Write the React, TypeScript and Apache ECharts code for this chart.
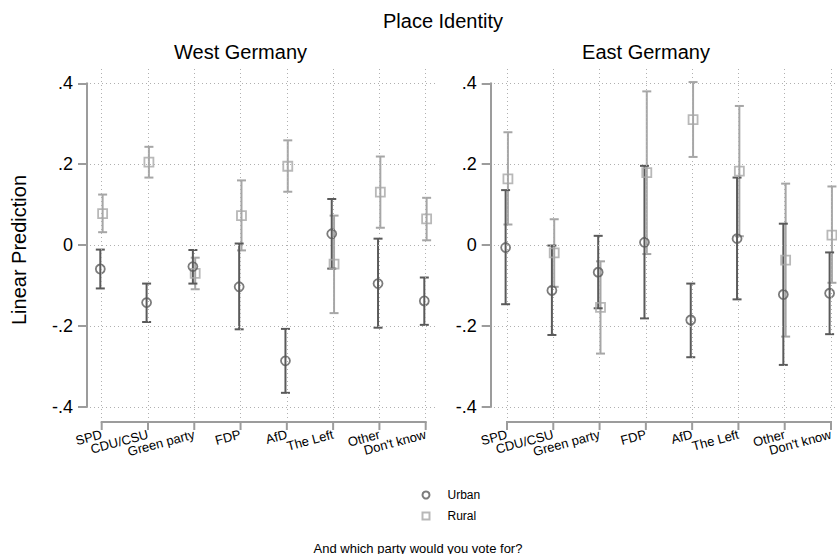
import React, { useEffect, useRef } from 'react';
import * as echarts from 'echarts';

const categories = ['SPD', 'CDU/CSU', 'Green party', 'FDP', 'AfD', 'The Left', 'Other', "Don't know"];
const yTicks = [-0.4, -0.2, 0, 0.2, 0.4];

const westUrban = [-0.059, -0.142, -0.053, -0.103, -0.286, 0.028, -0.095, -0.138];
const westUrbanLo = [-0.107, -0.19, -0.095, -0.208, -0.365, -0.058, -0.204, -0.197];
const westUrbanHi = [-0.011, -0.095, -0.012, 0.004, -0.207, 0.114, 0.016, -0.08];
const westRural = [0.078, 0.205, -0.07, 0.073, 0.195, -0.047, 0.131, 0.065];
const westRuralLo = [0.032, 0.167, -0.109, -0.013, 0.132, -0.168, 0.043, 0.012];
const westRuralHi = [0.125, 0.243, -0.031, 0.16, 0.259, 0.073, 0.219, 0.117];

const eastUrban = [-0.006, -0.112, -0.067, 0.007, -0.185, 0.016, -0.122, -0.119];
const eastUrbanLo = [-0.146, -0.222, -0.156, -0.181, -0.277, -0.134, -0.296, -0.22];
const eastUrbanHi = [0.136, -0.001, 0.023, 0.196, -0.095, 0.167, 0.053, -0.018];
const eastRural = [0.164, -0.019, -0.154, 0.179, 0.31, 0.183, -0.037, 0.025];
const eastRuralLo = [0.051, -0.103, -0.268, -0.022, 0.218, 0.022, -0.226, -0.093];
const eastRuralHi = [0.279, 0.064, -0.04, 0.38, 0.403, 0.344, 0.152, 0.145];

const URBAN = '#5a5a5a';
const RURAL = '#a6a6a6';
const AXIS = '#9c9c9c';
const GRIDC = '#b0b0b0';
const FONT = '"Liberation Sans", Arial, Helvetica, sans-serif';
const URBAN_SHIFT = -0.03;
const RURAL_SHIFT = 0.02;

const fmtY = (v: number) => {
  const r = Math.round(v * 10) / 10;
  if (r === 0) return '0';
  return (r < 0 ? '-' : '') + String(Math.abs(r)).replace(/^0/, '');
};
const fmtX = (v: number) => (Math.abs(v - Math.round(v)) < 1e-6 ? categories[Math.round(v) - 1] ?? '' : '');

const makeRender = (color: string) => (params: any, api: any) => {
  const x = api.value(0);
  const lo = api.value(1);
  const hi = api.value(2);
  const top = api.coord([x, hi]);
  const bot = api.coord([x, lo]);
  const w = 4.5;
  const style = { stroke: color, lineWidth: 2 };
  return {
    type: 'group',
    children: [
      { type: 'line', shape: { x1: top[0], y1: top[1], x2: bot[0], y2: bot[1] }, style },
      { type: 'line', shape: { x1: top[0] - w, y1: top[1], x2: top[0] + w, y2: top[1] }, style },
      { type: 'line', shape: { x1: bot[0] - w, y1: bot[1], x2: bot[0] + w, y2: bot[1] }, style },
    ],
  };
};

// x-axis baseline and ticks, placed from the axis scale (15px below -0.4)
const renderXAxis = (params: any, api: any) => {
  const x = api.value(0);
  const p = api.coord([x, -0.4]);
  const yb = p[1] + 15;
  const style = { stroke: AXIS, lineWidth: 2 };
  const children: any[] = [
    { type: 'line', shape: { x1: p[0], y1: yb, x2: p[0], y2: yb + 8 }, style },
  ];
  if (x < categories.length) {
    const q = api.coord([x + 1, -0.4]);
    children.push({ type: 'line', shape: { x1: p[0] - 1, y1: yb, x2: q[0] + 1, y2: yb }, style });
  }
  return { type: 'group', children };
};

function panelSeries(axisIdx: number, lineAxisIdx: number, urban: number[], uLo: number[], uHi: number[], rural: number[], rLo: number[], rHi: number[]) {
  return [
    {
      type: 'line',
      name: 'grid' + axisIdx,
      xAxisIndex: axisIdx,
      yAxisIndex: axisIdx,
      data: [[1, 0]],
      showSymbol: false,
      lineStyle: { opacity: 0 },
      silent: true,
      z: 1,
      markLine: {
        silent: true,
        symbol: 'none',
        label: { show: false },
        lineStyle: { type: [1, 3], color: GRIDC, width: 1 },
        data: [
          ...yTicks.map((v) => ({ yAxis: v })),
          ...categories.map((_, i) => ({ xAxis: i + 1 })),
        ],
      },
    },
    {
      type: 'custom',
      name: 'xaxis' + lineAxisIdx,
      xAxisIndex: lineAxisIdx,
      yAxisIndex: lineAxisIdx,
      renderItem: renderXAxis,
      clip: false,
      encode: { x: 0, y: 1 },
      data: categories.map((_, i) => [i + 1, -0.4]),
      silent: true,
      z: 5,
    },
    {
      type: 'custom',
      name: 'ciR' + axisIdx,
      xAxisIndex: axisIdx,
      yAxisIndex: axisIdx,
      renderItem: makeRender(RURAL),
      encode: { x: 0, y: [1, 2] },
      data: rural.map((_, i) => [i + 1 + RURAL_SHIFT, rLo[i], rHi[i]]),
      silent: true,
      z: 2,
    },
    {
      type: 'custom',
      name: 'ciU' + axisIdx,
      xAxisIndex: axisIdx,
      yAxisIndex: axisIdx,
      renderItem: makeRender(URBAN),
      encode: { x: 0, y: [1, 2] },
      data: urban.map((_, i) => [i + 1 + URBAN_SHIFT, uLo[i], uHi[i]]),
      silent: true,
      z: 2,
    },
    {
      type: 'scatter',
      name: 'Rural',
      xAxisIndex: axisIdx,
      yAxisIndex: axisIdx,
      symbol: 'rect',
      symbolSize: 9,
      data: rural.map((v, i) => [i + 1 + RURAL_SHIFT, v]),
      itemStyle: { color: 'rgba(0,0,0,0)', borderColor: RURAL, borderWidth: 1.8 },
      silent: true,
      z: 3,
    },
    {
      type: 'scatter',
      name: 'Urban',
      xAxisIndex: axisIdx,
      yAxisIndex: axisIdx,
      symbol: 'circle',
      symbolSize: 9,
      data: urban.map((v, i) => [i + 1 + URBAN_SHIFT, v]),
      itemStyle: { color: 'rgba(0,0,0,0)', borderColor: URBAN, borderWidth: 1.8 },
      silent: true,
      z: 3,
    },
  ];
}

const hiddenAxis = (gridIndex: number, min: number, max: number) => ({
  type: 'value',
  gridIndex,
  min,
  max,
  show: false,
  axisLine: { show: false, onZero: false },
  splitLine: { show: false },
});

// category labels
const labelX = (gridIndex: number, max: number) => ({
  type: 'value',
  gridIndex,
  min: 0,
  max,
  interval: 1,
  position: 'bottom',
  offset: 15,
  axisLine: { show: false, onZero: false },
  axisTick: { show: false },
  axisLabel: {
    rotate: 15,
    fontSize: 13,
    color: '#000',
    fontFamily: FONT,
    margin: 12,
    hideOverlap: false,
    showMinLabel: false,
    showMaxLabel: false,
    formatter: fmtX,
  },
  splitLine: { show: false },
});

const visibleY = (gridIndex: number, offset: number) => ({
  type: 'value',
  gridIndex,
  min: -0.4,
  max: 0.4,
  interval: 0.2,
  position: 'left',
  offset,
  axisLine: { show: true, onZero: false, lineStyle: { color: AXIS, width: 2 } },
  axisTick: { show: true, length: 9, lineStyle: { color: AXIS, width: 2 } },
  axisLabel: {
    fontSize: 18,
    color: '#000',
    fontFamily: FONT,
    margin: 14,
    showMinLabel: true,
    showMaxLabel: true,
    formatter: fmtY,
  },
  splitLine: { show: false },
});

export default function App() {
  const ref = useRef<HTMLDivElement>(null);
  useEffect(() => {
    if (!ref.current) return;
    const chart = echarts.init(ref.current, undefined, { renderer: 'svg' });
    const yMinA = -0.4272;
    const yMaxA = 0.4378;
    const step = 324 / 7;
    const legendBase = {
      orient: 'vertical',
      left: 416.5,
      itemWidth: 7,
      itemHeight: 7,
      selectedMode: false,
      textStyle: { fontSize: 12, color: '#000', fontFamily: FONT, padding: [0, 0, 0, 13] },
    };
    chart.setOption({
      animation: false,
      backgroundColor: '#ffffff',
      textStyle: { fontFamily: FONT },
      grid: [
        { left: 90, top: 68, width: 348, height: 350 },
        { left: 101.7, top: 83.3, width: 324, height: 323.7 },
        { left: 494, top: 68, width: 343, height: 350 },
        { left: 507, top: 83.3, width: 324, height: 323.7 },
        { left: 101.7 - step, top: 83.3, width: 324 + 2 * step, height: 323.7 },
        { left: 507 - step, top: 83.3, width: 324 + 1.1 * step, height: 323.7 },
      ],
      xAxis: [
        hiddenAxis(0, 0.7472, 8.2657),
        hiddenAxis(1, 1, 8),
        hiddenAxis(2, 0.7191, 8.1296),
        hiddenAxis(3, 1, 8),
        labelX(4, 9),
        labelX(5, 8.1),
      ],
      yAxis: [
        hiddenAxis(0, yMinA, yMaxA),
        visibleY(1, 14.7),
        hiddenAxis(2, yMinA, yMaxA),
        visibleY(3, 16.3),
        hiddenAxis(4, -0.4, 0.4),
        hiddenAxis(5, -0.4, 0.4),
      ],
      legend: [
        { ...legendBase, top: 484, data: [{ name: 'Urban', icon: 'circle' }] },
        { ...legendBase, top: 505, data: [{ name: 'Rural', icon: 'rect' }] },
      ],
      graphic: [
        { type: 'text', x: 443, y: 21, style: { text: 'Place Identity', fontSize: 20, fontFamily: FONT, fill: '#000', textAlign: 'center', textVerticalAlign: 'middle' } },
        { type: 'text', x: 240.5, y: 52, style: { text: 'West Germany', fontSize: 20, fontFamily: FONT, fill: '#000', textAlign: 'center', textVerticalAlign: 'middle' } },
        { type: 'text', x: 646, y: 52, style: { text: 'East Germany', fontSize: 20, fontFamily: FONT, fill: '#000', textAlign: 'center', textVerticalAlign: 'middle' } },
        { type: 'text', x: 19, y: 250, rotation: Math.PI / 2, style: { text: 'Linear Prediction', fontSize: 20, fontFamily: FONT, fill: '#000', textAlign: 'center', textVerticalAlign: 'middle' } },
        { type: 'text', x: 418, y: 548, style: { text: 'And which party would you vote for?', fontSize: 13, fontFamily: FONT, fill: '#000', textAlign: 'center', textVerticalAlign: 'middle' } },
      ],
      series: [
        ...panelSeries(0, 1, westUrban, westUrbanLo, westUrbanHi, westRural, westRuralLo, westRuralHi),
        ...panelSeries(2, 3, eastUrban, eastUrbanLo, eastUrbanHi, eastRural, eastRuralLo, eastRuralHi),
      ],
    });
    return () => chart.dispose();
  }, []);
  return (
    <div
      ref={ref}
      style={{ position: 'fixed', left: 0, top: 0, width: 837, height: 554, background: '#fff' }}
    />
  );
}
